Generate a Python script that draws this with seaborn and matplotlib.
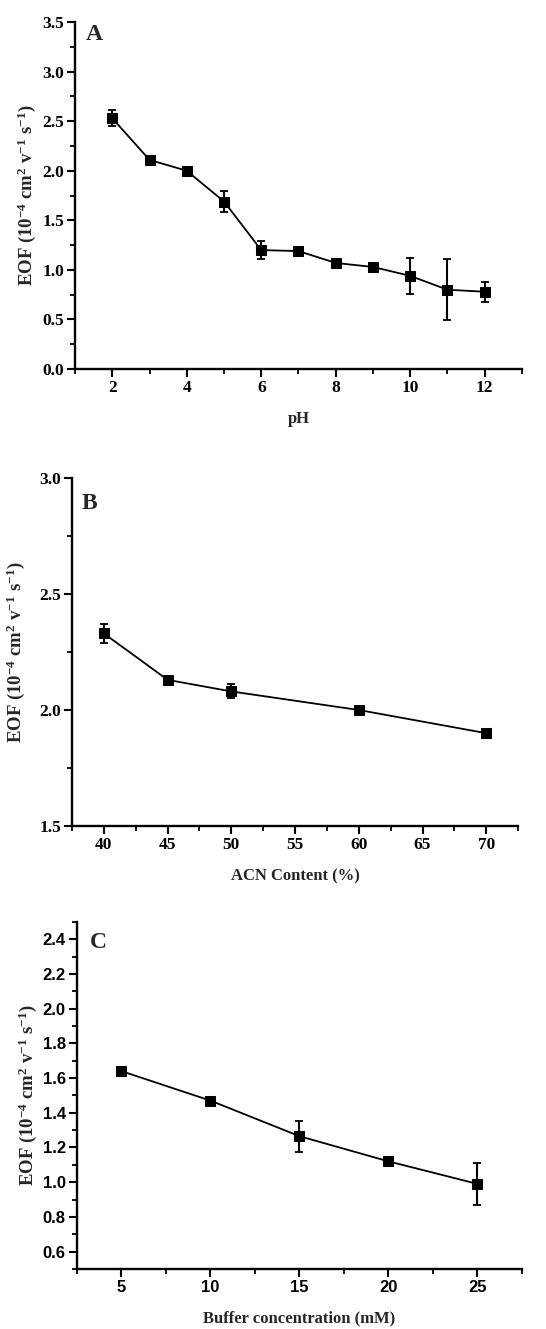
import numpy as np
import pandas as pd
import matplotlib
matplotlib.use("Agg")
import matplotlib.pyplot as plt
from matplotlib.ticker import MultipleLocator
import seaborn as sns

# Panel A
ph = [2, 3, 4, 5, 6, 7, 8, 9, 10, 11, 12]
eof_ph = [2.53, 2.11, 2.00, 1.69, 1.20, 1.19, 1.07, 1.03, 0.94, 0.80, 0.78]
err_ph = [0.08, 0.0, 0.0, 0.11, 0.09, 0.0, 0.0, 0.0, 0.18, 0.31, 0.10]

# Panel B
acn = [40, 45, 50, 60, 70]
eof_acn = [2.33, 2.13, 2.08, 2.00, 1.90]
err_acn = [0.04, 0.008, 0.03, 0.0, 0.0]

# Panel C
buf = [5, 10, 15, 20, 25]
eof_buf = [1.64, 1.47, 1.265, 1.12, 0.99]
err_buf = [0.0, 0.0, 0.09, 0.0, 0.12]

sns.set_style("ticks")
plt.rcParams['font.family'] = ['Liberation Serif', 'DejaVu Serif']
plt.rcParams['mathtext.fontset'] = 'custom'
plt.rcParams['mathtext.rm'] = 'Liberation Serif:bold'
plt.rcParams['mathtext.bf'] = 'Liberation Serif:bold'
plt.rcParams['mathtext.default'] = 'bf'

fig = plt.figure(figsize=(5.46, 13.29), dpi=100)

ylabel = r"EOF (10$^{-4}$ cm$^{2}$ v$^{-1}$ s$^{-1}$)"

def panel(rect, x, y, e, xlim, ylim, xmaj, xmin, ymaj, ymin, xlabel, letter, letter_xy,
          tickfont='Liberation Serif', tsize=12.5, ylpad=3):
    ax = fig.add_axes(rect)
    df = pd.DataFrame({'x': x, 'y': y})
    ax.errorbar(x, y, yerr=e, fmt='none', ecolor='black', elinewidth=1.5, capsize=3,
                capthick=1.3, zorder=2)
    sns.lineplot(data=df, x='x', y='y', ax=ax, color='black', linewidth=1.3,
                 marker='s', markersize=6.5, markeredgecolor='black',
                 markerfacecolor='black', zorder=3)
    ax.set_xlim(*xlim)
    ax.set_ylim(*ylim)
    ax.xaxis.set_major_locator(MultipleLocator(xmaj))
    ax.xaxis.set_minor_locator(MultipleLocator(xmin))
    ax.yaxis.set_major_locator(MultipleLocator(ymaj))
    ax.yaxis.set_minor_locator(MultipleLocator(ymin))
    for s in ['top', 'right']:
        ax.spines[s].set_visible(False)
    for s in ['left', 'bottom']:
        ax.spines[s].set_linewidth(1.7)
        ax.spines[s].set_color('black')
    ax.tick_params(which='major', direction='out', length=5.5, width=1.5, colors='black', pad=2.5)
    ax.tick_params(which='minor', direction='out', length=3.5, width=1.3, colors='black')
    ax.yaxis.set_major_formatter(matplotlib.ticker.FuncFormatter(lambda v, p: '{:.1f}'.format(v)))
    ax.xaxis.set_major_formatter(matplotlib.ticker.FuncFormatter(lambda v, p: '{:.0f}'.format(v)))
    for lab in ax.get_xticklabels() + ax.get_yticklabels():
        lab.set_fontfamily(tickfont)
        lab.set_fontweight('bold')
        lab.set_fontsize(tsize)
    ax.set_xlabel(xlabel, fontsize=12, fontweight='bold', labelpad=11)
    ax.set_ylabel(ylabel, fontsize=13.5, fontweight='bold', labelpad=ylpad)
    ax.text(letter_xy[0], letter_xy[1], letter, transform=ax.transAxes,
            fontsize=17, fontweight='bold', ha='left', va='center')
    ax.grid(False)
    return ax

panel([0.1374, 0.7223, 0.8186, 0.2611], ph, eof_ph, err_ph, (1, 13), (0, 3.5),
      2, 1, 0.5, 0.25, 'pH', 'A', (0.025, 0.963), ylpad=3)
panel([0.1319, 0.3785, 0.8171, 0.2618], acn, eof_acn, err_acn, (37.5, 72.5), (1.5, 3.0),
      5, 2.5, 0.5, 0.25, 'ACN Content (%)', 'B', (0.022, 0.928), ylpad=9)
panel([0.1410, 0.0452, 0.8150, 0.2611], buf, eof_buf, err_buf, (2.5, 27.5), (0.5, 2.5),
      5, 2.5, 0.2, 0.1, 'Buffer concentration (mM)', 'C', (0.03, 0.942),
      tickfont='Liberation Sans', tsize=12, ylpad=3)

fig.savefig('out.png', dpi=100)
